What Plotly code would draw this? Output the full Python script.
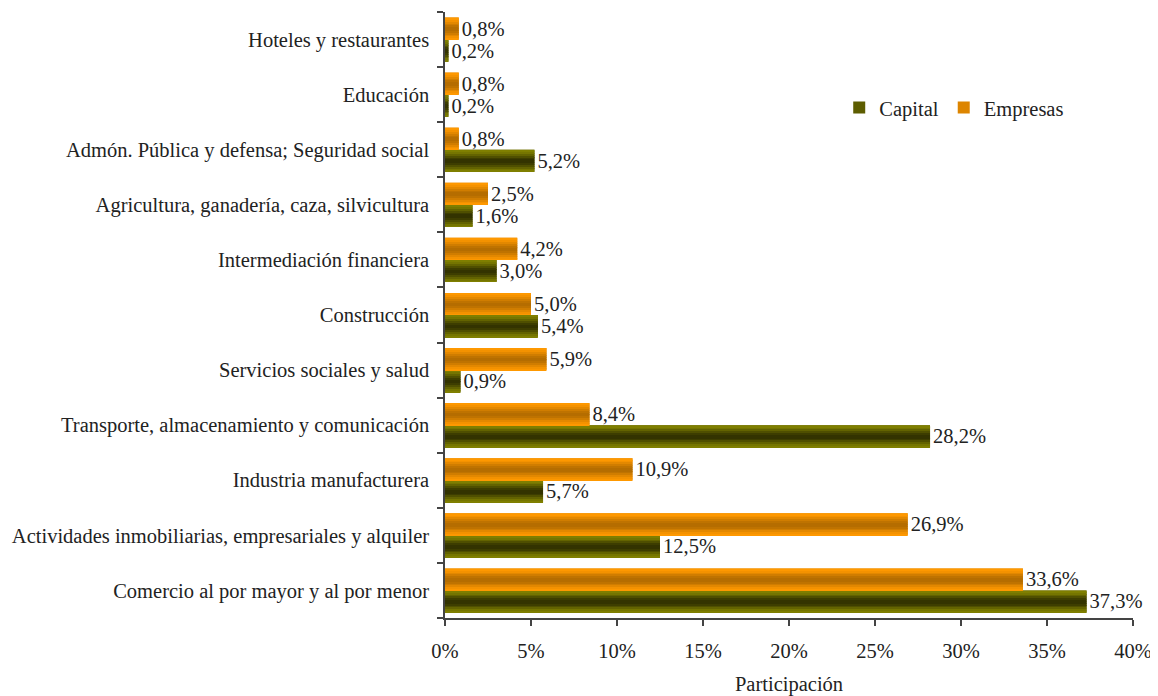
import plotly.graph_objects as go
import numpy as np

categories = [
    "Comercio al por mayor y al por menor",
    "Actividades inmobiliarias, empresariales y alquiler",
    "Industria manufacturera",
    "Transporte, almacenamiento y comunicación",
    "Servicios sociales y salud",
    "Construcción",
    "Intermediación financiera",
    "Agricultura, ganadería, caza, silvicultura",
    "Admón. Pública y defensa; Seguridad social",
    "Educación",
    "Hoteles y restaurantes",
]
empresas = [33.6, 26.9, 10.9, 8.4, 5.9, 5.0, 4.2, 2.5, 0.8, 0.8, 0.8]
capital = [37.3, 12.5, 5.7, 28.2, 0.9, 5.4, 3.0, 1.6, 5.2, 0.2, 0.2]
x_ticks = [0, 5, 10, 15, 20, 25, 30, 35, 40]
x_ticktext = [f"{v}%" for v in x_ticks]

FONT = "Liberation Serif, Times New Roman, serif"
FS = 20.5
TXT = "#222222"
BAR_W = 0.4
N_STRIPES = 12


def fmt(v):
    return f"{v:.1f}%".replace(".", ",")


def blend(c1, c2, t):
    return "rgb(%d,%d,%d)" % tuple(round(a + (b - a) * t) for a, b in zip(c1, c2))


series = [
    # name, values, offset, edge colour, centre colour
    ("Capital", capital, -BAR_W, (128, 128, 0), (50, 50, 0)),
    ("Empresas", empresas, 0.0, (255, 153, 0), (180, 108, 0)),
]

fig = go.Figure()
for name, vals, off, edge, centre in series:
    fig.add_trace(go.Bar(
        y=categories, x=vals, orientation="h", name=name,
        offset=off, width=BAR_W,
        marker=dict(color=blend(edge, centre, 0.45), line=dict(width=0)),
        text=[fmt(v) for v in vals], textposition="outside",
        textfont=dict(family=FONT, size=FS, color=TXT),
        constraintext="none", cliponaxis=False,
        hovertemplate="%{y}: %{text}<extra>" + name + "</extra>",
    ))
    sw = BAR_W / N_STRIPES
    for i in range(N_STRIPES):
        c = (i + 0.5) / N_STRIPES
        t = np.cos((c - 0.5) * np.pi) ** 2
        fig.add_trace(go.Bar(
            y=categories, x=vals, orientation="h", showlegend=False,
            offset=off + i * sw, width=sw * 1.02,
            marker=dict(color=blend(edge, centre, t), line=dict(width=0)),
            hoverinfo="skip", textposition="none",
        ))

fig.update_layout(
    width=1150, height=688,
    barmode="overlay",
    paper_bgcolor="white", plot_bgcolor="white",
    margin=dict(l=437, r=25, t=4, b=78, autoexpand=False),
    font=dict(family=FONT, size=FS, color=TXT),
    separators=",.",
    showlegend=True,
    legend=dict(
        x=0.573, y=0.842, xanchor="left", yanchor="middle",
        orientation="h", traceorder="normal",
        font=dict(family=FONT, size=FS, color=TXT),
        bgcolor="rgba(0,0,0,0)",
    ),
    xaxis=dict(
        range=[0, 40], tickvals=x_ticks, ticktext=x_ticktext,
        showgrid=False, zeroline=False,
        showline=True, linecolor="#444444", linewidth=1.5,
        ticks="outside", ticklen=6, tickcolor="#444444", tickwidth=1.5,
        ticklabelstandoff=8,
        title=dict(text="Participación", standoff=16,
                   font=dict(family=FONT, size=FS, color=TXT)),
        tickfont=dict(family=FONT, size=FS, color=TXT),
        automargin=False,
    ),
    yaxis=dict(
        type="category", categoryorder="array", categoryarray=categories,
        range=[-0.5, len(categories) - 0.5],
        showgrid=False, zeroline=False,
        showline=True, linecolor="#444444", linewidth=1.5,
        ticks="outside", ticklen=6, tickcolor="#444444", tickwidth=1.5,
        tickson="boundaries", ticklabelstandoff=10,
        tickfont=dict(family=FONT, size=FS, color=TXT),
        automargin=False,
    ),
)

fig.write_html("out.html")
